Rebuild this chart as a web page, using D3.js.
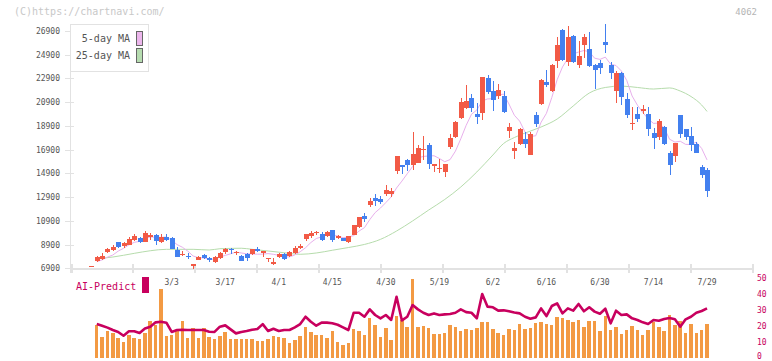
<!DOCTYPE html>
<html>
<head>
<meta charset="utf-8">
<script src="https://cdn.jsdelivr.net/npm/d3@7"></script>
<style>
  html, body { margin: 0; padding: 0; background: #fff; }
  svg text { font-family: "DejaVu Sans Mono", monospace; }
</style>
</head>
<body>
<svg id="chart" width="772" height="361"></svg>
<script>
// ── data (index 0 is the lone flat tick before the first full session) ──
const openP  = [7070,7520,7710,8270,8420,9120,8810,8890,9290,9450,9140,9510,9710,9120,9510,9430,8440,8000,7960,7070,
                7600,8000,7740,7410,7770,8250,8530,8220,7910,8110,8110,8530,8160,7710,7240,7850,8130,7910,8190,8610,
                9370,9650,9850,9770,9650,10130,9480,9450,9120,9710,10410,11330,12240,12800,12740,13140,13140,15130,15610,16030,
                15610,15800,16850,17290,15520,15290,14990,17100,17970,19570,20440,21250,19900,19960,22940,21840,21450,21420,18500,16760,
                17400,17770,16470,19800,20770,22600,21840,24400,26980,24310,26480,24030,25720,25380,24030,24200,25970,24030,21870,23340,
                21170,19090,19930,20180,19930,18300,17990,18830,16640,16390,19820,18640,18050,17380,15440,15190];
const highP  = [7070,7940,8160,8610,8840,9120,9120,9560,9790,9560,10040,9850,9790,9790,9770,9510,8670,8380,8170,7240,
                7910,8110,7830,7940,8270,8610,8640,8380,8000,8220,8500,8700,8380,7770,7740,8160,8220,8360,8780,8920,
                9820,10040,10040,9960,10040,10130,9710,9450,9620,10580,11250,11590,12850,13160,12990,13920,13690,16400,15640,16140,
                18410,17290,18050,17440,15720,16110,15720,18220,19340,21230,22350,21590,20830,23000,23190,22690,22430,21820,19170,17520,
                18700,18410,18410,20070,22880,23590,24090,26390,27070,27320,26560,26060,26650,26840,24120,24480,27490,24310,23550,23470,
                21650,20490,20470,20660,20470,18700,19460,18860,16810,17480,19850,18660,18810,17570,15610,15350];
const lowP   = [7070,7430,7600,8190,8330,8640,8640,8840,9200,9060,9090,9290,8890,9060,9230,8530,7850,7910,7710,6840,
                7600,7710,7460,7350,7710,8110,8110,8050,7520,7540,8020,8270,7880,7430,7180,7790,7600,7850,8110,8500,
                9200,9430,9710,9200,9560,9140,9340,9200,9060,9680,10270,10780,12090,12180,12290,12990,12930,14820,14820,15130,
                15190,15750,16030,15240,14990,14960,14620,16930,17880,19480,20300,20100,19090,19400,21570,20180,21140,19960,17910,16090,
                17270,17060,16450,18830,20660,22210,21780,23810,24400,23950,24180,23810,24600,23870,22010,23280,25070,22850,20860,20660,
                19570,18560,19190,19900,18080,16960,17710,17290,14790,15880,17910,17710,16810,16590,14490,12930];
const closeP = [7070,7830,7940,8530,8720,8720,9010,9370,9620,9120,9900,9710,9230,9540,9290,8550,7880,8110,7910,7240,
                7830,7770,7600,7880,8160,8530,8440,8300,7540,7770,8500,8330,8330,7770,7460,8080,7710,8270,8610,8810,
                9770,9900,9960,9290,9960,9290,9620,9200,9620,10550,11220,11030,12600,12570,12490,13500,13420,16370,15460,15610,
                16530,17060,16980,15670,15690,15380,15690,17880,19230,20890,21030,20390,19680,23000,21780,21110,21930,20100,18810,17060,
                18620,17350,18220,19090,22770,22370,24010,25720,24460,26370,24310,24770,26370,23950,23640,23810,25720,23390,23390,21360,
                19820,19170,19480,20330,18670,17910,19310,17380,15630,17460,18260,17990,17320,16640,14790,13440];
// volume (relative height, same 0-50 grid as the AI axis) and AI-Predict score
const volume = [null,20.6,13.1,16.9,15.2,12.5,10,14.4,12.5,11.9,15.6,23.1,20.6,43.1,13.75,14.4,17.5,23.1,12.5,18.75,
                12.5,18.75,13.1,11.9,13.75,16.25,11.9,11.9,11.9,11.9,11.9,10.6,10.6,11.9,13.75,13.1,12.5,9.4,11.25,13.75,
                19.4,16.25,14.4,14.4,12.5,16.9,10,8.1,9.4,18.1,16.9,14.4,25,20.6,13.1,18.75,11.25,26.25,23.75,19.4,
                49.4,19.4,20,18.75,15,15,15.6,20.6,19.4,16.9,18.1,17.5,18.75,22.5,22.5,18.1,15.6,14.4,18.1,17.5,
                21.1,18.1,18.75,21.9,22.5,21.1,20.6,25.6,25,23.75,22.5,23.75,19.4,23.1,23.1,16.9,26.25,17.5,19.4,15,
                17.5,20,17.5,14.4,17.5,22.5,19.4,16.9,26.9,20.6,23.1,15.6,21.1,15.6,17.5,21.1];
const aiPredict = [null,21.1,20,18.8,17.3,16.1,13.75,16.5,16.5,15.4,18.3,19.4,22.1,22.5,21.9,16.1,17.3,17.5,17.3,17.3,
                17.3,17.3,16.25,16.1,19.4,20.2,17.7,15.2,16.1,16.7,17.5,17.9,21,16.7,18.1,16.7,17.3,17.3,19,21,
                25.6,22.5,20,21.9,21.9,21.5,20.6,19,17.3,28.1,28.1,25.6,30.2,26.7,24.6,26.7,23.6,38.1,23.3,25.6,
                32.9,30.2,28.1,26.7,27.7,26.7,27.1,27.3,28.1,30.2,28.5,28.1,24.6,39.8,31.9,31.5,29.4,29.6,29,28.3,
                27.7,25.6,24.4,25.2,30.8,26,32.3,34,27.7,30.8,29.4,33.6,29,31.5,28.8,27.5,30.6,21.5,29.4,26.7,
                27.1,24.6,23.6,22.1,21.1,23.6,23.1,24.2,24.8,24,19.4,24,25.6,28.1,29.2,30.8];
const ma25Index = [1,4,8,11,14,19,22,24,28,30,33,36,39,42,45,48,51,54,57,60,63,66,69,72,75,77,79,81,84,87,90,93,96,99,102,105,108,110,112,114,115];
const ma25Value = [7710,7850,8160,8380,8500,8500,8440,8550,8590,8500,8360,8210,8080,8190,8420,8650,8910,9340,10040,10890,11810,12700,13750,15020,16450,17420,17920,18300,18810,19480,20580,21670,22140,22260,22140,22010,22100,21840,21380,20660,20120];

const priceTicks = d3.range(6900, 26901, 2000);
const lowerTicks = [0, 10, 20, 30, 40, 50];
const dateLabels = ["3/3","3/17","4/1","4/15","4/30","5/19","6/2","6/16","6/30","7/14","7/29"];
const dateIndex  = [15, 25, 35, 45, 55, 65, 75, 85, 95, 105, 115];

const UP = "#f25a46", DOWN = "#4380ef";

// ── 5-day MA from closes (partial window at the start) ──
const ma5 = closeP.map((c, i) => d3.mean(closeP.slice(Math.max(0, i - 4), i + 1)));

const svg = d3.select("#chart");

const x  = d3.scaleLinear().domain([-4, 123.4]).range([70, 752]);
const y  = d3.scaleLinear().domain([6900, 26900]).range([268.3, 31]);
const yL = d3.scaleLinear().domain([0, 50]).range([357.7, 277.7]);
const grid = d3.scaleLinear().domain([0, 11]).range([70.5, 752]);

// header texts
svg.append("text").attr("x", 14).attr("y", 15).attr("fill", "#c8c8c8")
  .style("font-size", "10px").text("(C)https://chartnavi.com/");
svg.append("text").attr("x", 757).attr("y", 15).attr("text-anchor", "end").attr("fill", "#b4b4b4")
  .style("font-size", "9px").text("4062");

// axes
const axisG = svg.append("g").attr("shape-rendering", "crispEdges");
axisG.append("line").attr("x1", 70.5).attr("x2", 70.5).attr("y1", 24).attr("y2", 273)
  .attr("stroke", "#e2e2e2");
axisG.append("line").attr("x1", 70).attr("x2", 752).attr("y1", 268.5).attr("y2", 268.5)
  .attr("stroke", "#e2e2e2").attr("stroke-width", 2);
axisG.selectAll(".gx").data(d3.range(0, 12)).join("line")
  .attr("x1", d => Math.round(grid(d)) + 0.5).attr("x2", d => Math.round(grid(d)) + 0.5)
  .attr("y1", 264).attr("y2", 273).attr("stroke", "#e2e2e2").attr("stroke-width", 2);
axisG.selectAll(".gy").data(priceTicks).join("line")
  .attr("x1", 65).attr("x2", 74).attr("y1", d => Math.round(y(d)) + 0.5).attr("y2", d => Math.round(y(d)) + 0.5)
  .attr("stroke", "#e2e2e2");
svg.selectAll(".ylab").data(priceTicks).join("text")
  .attr("x", 60).attr("y", d => y(d) + 3).attr("text-anchor", "end")
  .attr("fill", "#555").style("font-size", "8px").text(d => d);
svg.selectAll(".xlab").data(dateLabels).join("text")
  .attr("x", (d, i) => x(dateIndex[i])).attr("y", 285).attr("text-anchor", "middle")
  .attr("fill", "#555").style("font-size", "8px").text(d => d);

// legend
svg.append("rect").attr("x", 70.5).attr("y", 24.5).attr("width", 78).attr("height", 47)
  .attr("fill", "#fff").attr("stroke", "#e2e2e2");
[["5-day MA", "#ecb6ec", 31], ["25-day MA", "#b6dcb0", 48]].forEach(([t, c, yy]) => {
  svg.append("text").attr("x", 130).attr("y", yy + 11).attr("text-anchor", "end")
    .attr("fill", "#555").style("font-size", "10px").text(t);
  svg.append("rect").attr("x", 136.5).attr("y", yy + 0.5).attr("width", 6).attr("height", 14)
    .attr("fill", c).attr("stroke", "#666");
});

// moving averages
svg.append("path").datum(ma25Index.map((d, i) => [d, ma25Value[i]]))
  .attr("fill", "none").attr("stroke", "#b6dcac").attr("stroke-width", 1)
  .attr("d", d3.line().x(d => x(d[0])).y(d => y(d[1])).curve(d3.curveMonotoneX));
svg.append("path").datum(ma5.map((d, i) => [i, d]).slice(1))
  .attr("fill", "none").attr("stroke", "#e8b0ec").attr("stroke-width", 1)
  .attr("d", d3.line().x(d => x(d[0])).y(d => y(d[1])));

// candles
const candles = svg.append("g").attr("shape-rendering", "crispEdges");
closeP.forEach((c, i) => {
  const o = openP[i], cx = Math.round(x(i));
  const col = c >= o ? UP : DOWN;
  candles.append("line").attr("x1", cx + 0.5).attr("x2", cx + 0.5)
    .attr("y1", y(highP[i])).attr("y2", y(lowP[i])).attr("stroke", col);
  const top = y(Math.max(o, c)), bot = y(Math.min(o, c));
  candles.append("rect").attr("x", cx - 2).attr("width", 5)
    .attr("y", top).attr("height", Math.max(1, bot - top)).attr("fill", col);
});

// lower panel: volume + AI-Predict
const lower = svg.append("g");
lower.append("g").attr("shape-rendering", "crispEdges").selectAll("rect")
  .data(volume.map((v, i) => [i, v]).filter(d => d[1] != null)).join("rect")
  .attr("x", d => x(d[0]) - 1.8).attr("width", 3.5)
  .attr("y", d => yL(d[1])).attr("height", d => yL(0) - yL(d[1]))
  .attr("fill", "#f39a43");
lower.append("path").datum(aiPredict.map((v, i) => [i, v]).filter(d => d[1] != null))
  .attr("fill", "none").attr("stroke", "#c8005e").attr("stroke-width", 2.6)
  .attr("stroke-linejoin", "round")
  .attr("d", d3.line().x(d => x(d[0])).y(d => yL(d[1])));
svg.selectAll(".rlab").data(lowerTicks).join("text")
  .attr("x", 757).attr("y", d => Math.min(yL(d) + 3, 358.5)).attr("fill", "#c8005e")
  .style("font-size", "8px").text(d => d);
svg.append("text").attr("x", 76).attr("y", 290).attr("fill", "#c8005e")
  .style("font-size", "10px").text("AI-Predict");
svg.append("rect").attr("x", 142).attr("y", 277).attr("width", 7).attr("height", 16)
  .attr("fill", "#c8005e");
</script>
</body>
</html>
